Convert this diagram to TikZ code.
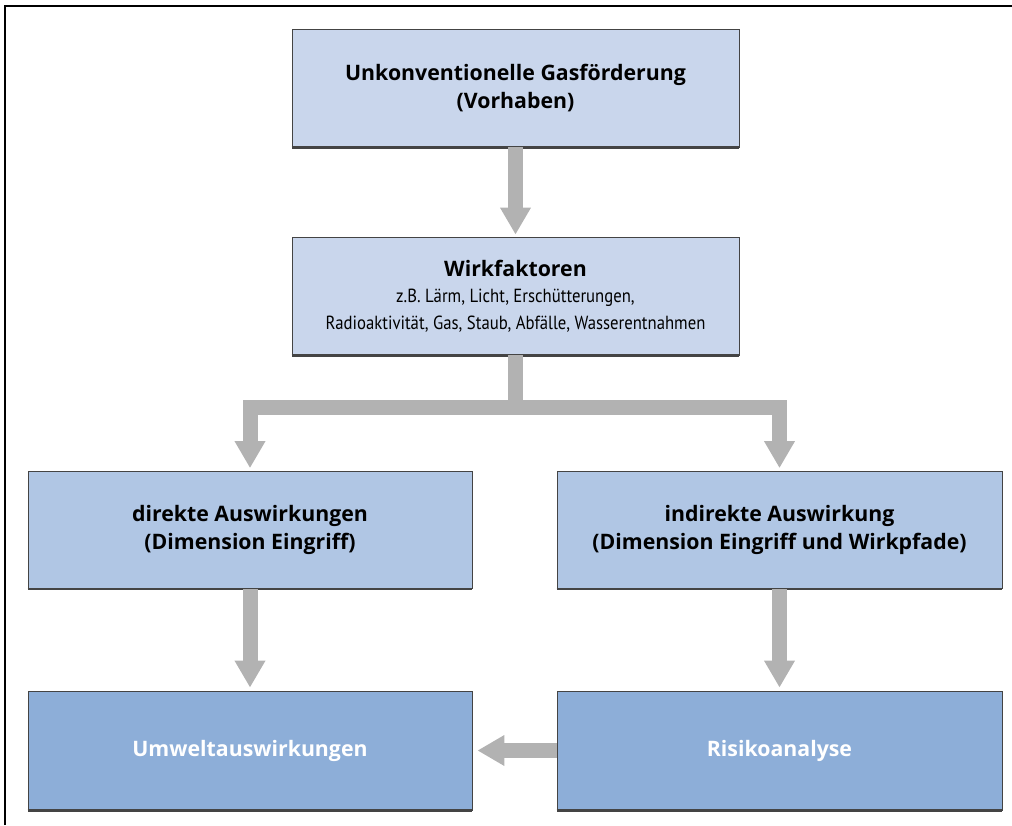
\documentclass[tikz,border=0pt]{standalone}
\usepackage{fontspec}
\setmainfont{Open Sans}
\newfontfamily\condfont[FakeStretch=0.88]{PT Sans}
\usetikzlibrary{arrows.meta}
\definecolor{boxA}{HTML}{C9D6EC}
\definecolor{boxB}{HTML}{B0C6E4}
\definecolor{boxC}{HTML}{8DAED8}
\definecolor{arrowgray}{HTML}{B2B2B2}
\definecolor{edgegray}{HTML}{444444}
\tikzset{
  box/.style={draw=edgegray, line width=0.8pt, inner sep=0pt, align=center,
    font=\fontsize{21.3}{27.5}\selectfont\bfseries},
  topbox/.style={box, fill=boxA, minimum width=447pt, minimum height=118pt},
  midbox/.style={box, fill=boxB, minimum width=444pt, minimum height=117pt},
  lowbox/.style={box, fill=boxC, text=white, minimum width=444pt, minimum height=119pt},
  bottomedge/.style={edgegray, line width=2.5pt},
  fatarrow/.style={arrowgray, line width=15pt, line join=miter,
    -{Triangle[width=29pt,length=27pt]}},
  frameline/.style={black, line width=2.5pt}
}
\begin{document}
\begin{tikzpicture}[x=1pt,y=-1pt]
\useasboundingbox (0,0) rectangle (1012,825);
% frame
\coordinate (fa) at (5,825);
\coordinate (fb) at (5,6);
\coordinate (fc) at (1012,6);
\draw[frameline] (fa) -- (fb) -- (fc);
% boxes
\node[topbox] (gas) at (515.5,88) {Unkonventionelle Gasförderung\\(Vorhaben)};
\node[topbox, font=\fontsize{21.3}{27}\selectfont] (wirk) at (515.5,296)
  {\bfseries Wirkfaktoren\\[-1pt]
   {\condfont\fontsize{19}{26}\selectfont z.B. Lärm, Licht, Erschütterungen,}\\[0pt]
   {\condfont\fontsize{19}{26}\selectfont Radioaktivität, Gas, Staub, Abfälle, Wasserentnahmen}};
\node[midbox] (direkt) at (250,530) {direkte Auswirkungen\\(Dimension Eingriff)};
\node[midbox, minimum width=445pt] (indirekt) at (779.5,530) {indirekte Auswirkung\\(Dimension Eingriff und Wirkpfade)};
\node[lowbox] (umwelt) at (250,750.5) {Umweltauswirkungen};
\node[lowbox, minimum width=445pt] (risiko) at (779.5,750.5) {Risikoanalyse};
% thicker bottom edges
\foreach \n in {gas,wirk,direkt,indirekt,umwelt,risiko}
  \draw[bottomedge] (\n.south west) -- (\n.south east);
% arrows
\draw[fatarrow, shorten >=2pt] (gas.south) -- (wirk.north);
\coordinate (split) at (515.5,407);
\draw[fatarrow, shorten >=3pt] (wirk.south) -- (split) -| (direkt.north);
\draw[fatarrow, shorten >=3pt] (split) -| (indirekt.north);
\draw[fatarrow, shorten >=3pt] (direkt.south) -- (umwelt.north);
\draw[fatarrow, shorten >=3pt] (indirekt.south) -- (risiko.north);
\draw[fatarrow, shorten >=5pt] (risiko.west) -- (umwelt.east);
\end{tikzpicture}
\end{document}
